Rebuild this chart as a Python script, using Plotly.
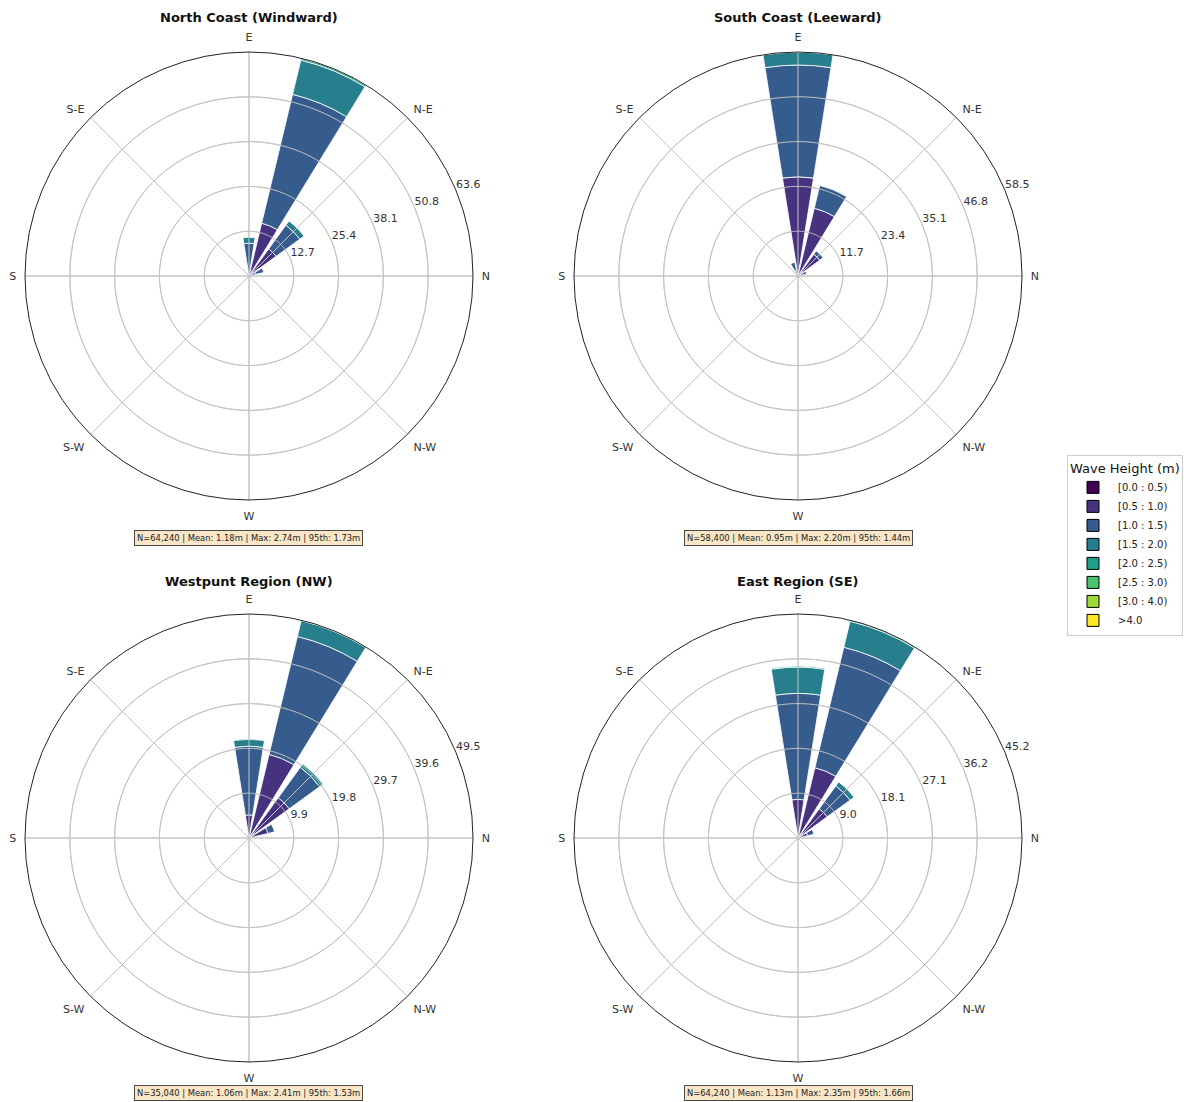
import numpy as np
import plotly.graph_objects as go

# Compass sectors (degrees, clockwise from the top of each rose) that carry data
SECTORS = [337.5, 0.0, 22.5, 45.0, 67.5]
SECTOR_WIDTH = 18.0  # 80% of a 22.5 degree sector

BIN_LABELS = ["[0.0 : 0.5)", "[0.5 : 1.0)", "[1.0 : 1.5)", "[1.5 : 2.0)",
              "[2.0 : 2.5)", "[2.5 : 3.0)", "[3.0 : 4.0)", ">4.0"]
BIN_COLORS = ["#440154", "#46327e", "#365c8d", "#277f8e",
              "#1fa187", "#4ac16d", "#a0da39", "#fde725"]

# Frequency (%) per wave-height bin (rows) and sector (columns, same order as SECTORS)
NORTH_COAST = [
    [0.0, 0.1, 0.4, 0.3, 0.3],
    [0.0, 0.5, 15.0, 9.2, 1.7],
    [0.0, 8.7, 37.6, 8.3, 2.3],
    [0.0, 1.7, 9.99, 1.5, 0.0],
    [0.0, 0.0, 0.55, 0.0, 0.0],
    [0.0, 0.0, 0.016, 0.0, 0.0],
    [0.0, 0.0, 0.0, 0.0, 0.0],
    [0.0, 0.0, 0.0, 0.0, 0.0],
]
SOUTH_COAST = [
    [0.2, 0.5, 0.4, 0.3, 0.8],
    [1.3, 25.4, 17.8, 6.7, 1.5],
    [2.2, 29.2, 6.1, 1.1, 0.0],
    [0.0, 3.38, 0.0, 0.0, 0.0],
    [0.0, 0.02, 0.0, 0.0, 0.0],
    [0.0, 0.0, 0.0, 0.0, 0.0],
    [0.0, 0.0, 0.0, 0.0, 0.0],
    [0.0, 0.0, 0.0, 0.0, 0.0],
]
WESTPUNT = [
    [0.0, 0.3, 0.5, 0.3, 0.3],
    [0.0, 4.8, 18.5, 10.7, 4.0],
    [0.0, 15.2, 26.8, 8.3, 1.5],
    [0.0, 1.5, 3.6, 0.9, 0.0],
    [0.0, 0.0, 0.1, 0.0, 0.0],
    [0.0, 0.0, 0.0, 0.0, 0.0],
    [0.0, 0.0, 0.0, 0.0, 0.0],
    [0.0, 0.0, 0.0, 0.0, 0.0],
]
EAST = [
    [0.0, 0.4, 0.4, 0.3, 0.3],
    [0.0, 7.4, 14.2, 7.0, 1.7],
    [0.0, 21.4, 25.0, 5.7, 1.3],
    [0.0, 5.3, 5.4, 1.0, 0.0],
    [0.0, 0.2, 0.22, 0.0, 0.0],
    [0.0, 0.0, 0.0, 0.0, 0.0],
    [0.0, 0.0, 0.0, 0.0, 0.0],
    [0.0, 0.0, 0.0, 0.0, 0.0],
]

REGION_TITLES = ["North Coast (Windward)", "South Coast (Leeward)",
                 "Westpunt Region (NW)", "East Region (SE)"]
REGION_STATS = [
    "N=64,240 | Mean: 1.18m | Max: 2.74m | 95th: 1.73m",
    "N=58,400 | Mean: 0.95m | Max: 2.20m | 95th: 1.44m",
    "N=35,040 | Mean: 1.06m | Max: 2.41m | 95th: 1.53m",
    "N=64,240 | Mean: 1.13m | Max: 2.35m | 95th: 1.66m",
]
DIR_TICKS = [0, 45, 90, 135, 180, 225, 270, 315]
DIR_LABELS = ["E", "N-E", "N", "N-W", "W", "S-W", "S", "S-E"]

REGIONS = [NORTH_COAST, SOUTH_COAST, WESTPUNT, EAST]

W, H = 1187, 1102
FONT = "DejaVu Sans"
GRID = "#c4c4c4"

# pixel layout of each rose: centre, radius, title and statistics-box rows
CENTERS = [(249, 276), (798, 276), (249, 838), (798, 838)]
RADIUS = 224
TITLE_Y = [18, 18, 581, 581]
STATS_Y = [538, 538, 1093, 1093]
RADIAL_LABEL_THETA = 67.5  # compass bearing along which ring values are written

fig = go.Figure()
annotations = []

for i, table in enumerate(REGIONS):
    sub = "polar" if i == 0 else f"polar{i + 1}"
    totals = np.sum(np.array(table), axis=0)
    rmax = float(totals.max())
    ticks = np.linspace(0, rmax, 6)[1:]

    for b, row in enumerate(table):
        fig.add_trace(go.Barpolar(
            r=row,
            theta=SECTORS,
            width=[SECTOR_WIDTH] * len(SECTORS),
            marker=dict(color=BIN_COLORS[b], line=dict(color="white", width=0.8)),
            name=BIN_LABELS[b],
            showlegend=False,
            subplot=sub,
            hoverinfo="skip",
        ))

    # grid drawn over the bars: rings at the radial ticks and spokes every 45 degrees
    ring_theta = np.linspace(0, 360, 361)
    for t in ticks[:-1]:
        fig.add_trace(go.Scatterpolar(
            r=[t] * len(ring_theta), theta=ring_theta, mode="lines",
            line=dict(color=GRID, width=1), showlegend=False,
            hoverinfo="skip", subplot=sub,
        ))
    for a in DIR_TICKS:
        fig.add_trace(go.Scatterpolar(
            r=[0, rmax], theta=[a, a], mode="lines",
            line=dict(color=GRID, width=1), showlegend=False,
            hoverinfo="skip", subplot=sub,
        ))

    # ring values
    fig.add_trace(go.Scatterpolar(
        r=list(ticks), theta=[RADIAL_LABEL_THETA] * len(ticks), mode="text",
        text=[f"{v:.1f}" for v in ticks], textposition="top right",
        textfont=dict(family=FONT, size=11, color="#333333"),
        showlegend=False, hoverinfo="skip", subplot=sub, cliponaxis=False,
    ))

    cx, cy = CENTERS[i]
    dom_x = [(cx - RADIUS) / W, (cx + RADIUS) / W]
    dom_y = [1 - (cy + RADIUS) / H, 1 - (cy - RADIUS) / H]
    fig.layout[sub] = dict(
        domain=dict(x=dom_x, y=dom_y),
        bgcolor="white",
        barmode="stack",
        angularaxis=dict(
            rotation=90,
            direction="clockwise",
            tickmode="array",
            tickvals=DIR_TICKS,
            ticktext=DIR_LABELS,
            ticks="outside",
            ticklen=6,
            tickcolor="rgba(0,0,0,0)",
            showline=True,
            linecolor="#222222",
            linewidth=1,
            gridcolor=GRID,
            gridwidth=1,
            tickfont=dict(family=FONT, size=11, color="#333333"),
        ),
        radialaxis=dict(
            range=[0, rmax],
            tickmode="array",
            tickvals=list(ticks),
            showticklabels=False,
            angle=22.5,
            showline=False,
            ticks="",
            gridcolor=GRID,
            gridwidth=1,
        ),
    )
    # subplot title
    annotations.append(dict(
        x=cx / W, y=1 - TITLE_Y[i] / H, xref="paper", yref="paper",
        text=f"<b>{REGION_TITLES[i]}</b>", showarrow=False,
        font=dict(family=FONT, size=13, color="#111111"),
        xanchor="center", yanchor="middle",
    ))
    # statistics box
    annotations.append(dict(
        x=cx / W, y=1 - STATS_Y[i] / H, xref="paper", yref="paper",
        text=REGION_STATS[i], showarrow=False,
        font=dict(family=FONT, size=8.4, color="#222222"),
        xanchor="center", yanchor="middle",
        bgcolor="rgba(245,222,179,0.75)", bordercolor="#4a4a4a",
        borderwidth=1, borderpad=2,
    ))

# legend entries with dark outlines
for b in range(len(BIN_LABELS)):
    fig.add_trace(go.Barpolar(
        r=[0], theta=[0], width=[0],
        marker=dict(color=BIN_COLORS[b], line=dict(color="black", width=1)),
        name=BIN_LABELS[b],
        showlegend=True,
        subplot="polar",
        hoverinfo="skip",
    ))

fig.update_layout(
    width=W, height=H,
    margin=dict(l=0, r=0, t=0, b=0),
    paper_bgcolor="white",
    annotations=annotations,
    legend=dict(
        title=dict(text="Wave Height (m)", font=dict(family=FONT, size=13, color="#111111")),
        x=1067 / W, y=1 - 455 / H, xanchor="left", yanchor="top",
        bgcolor="white", bordercolor="#cccccc", borderwidth=1,
        font=dict(family=FONT, size=10, color="#222222"),
        tracegroupgap=0, itemwidth=40,
    ),
)

fig.write_html("out.html", config={"displayModeBar": False})
